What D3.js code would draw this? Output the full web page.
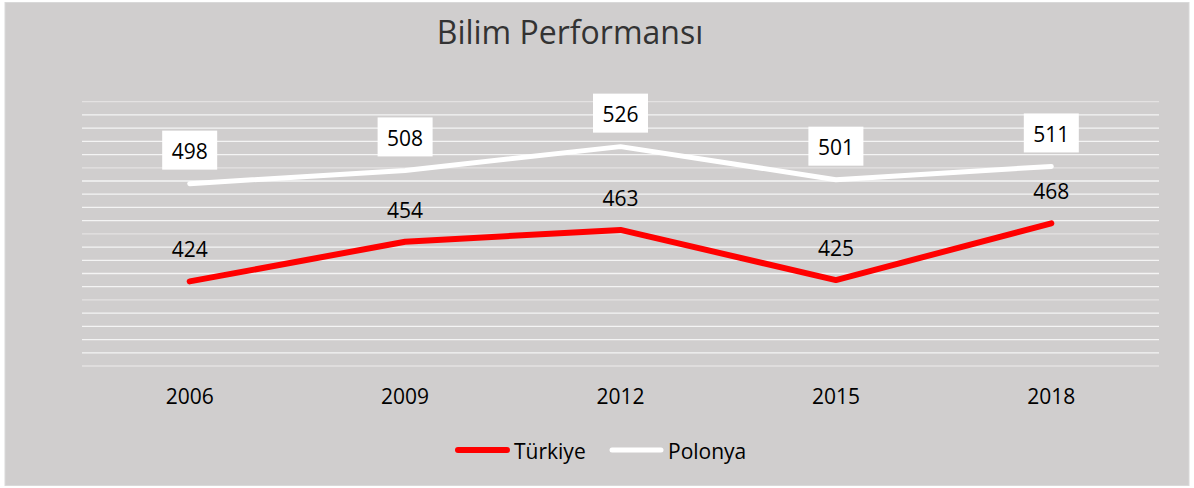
<!DOCTYPE html>
<html><head><meta charset="utf-8">
<script src="https://cdn.jsdelivr.net/npm/d3@7"></script>
<style>html,body{margin:0;padding:0;background:#fff;}text{font-family:"Open Sans",sans-serif;}</style>
</head><body><svg id="c" width="1194" height="488"></svg>
<script>
const years = ["2006","2009","2012","2015","2018"];
const turkiye = [424,454,463,425,468];
const polonya = [498,508,526,501,511];
const seriesNames = ["Türkiye","Polonya"];
const yTicks = d3.range(360,561,10);

const svg = d3.select("#c");
svg.append("rect").attr("x",5).attr("y",2.5).attr("width",1184).attr("height",483)
  .attr("fill","#d0cece").attr("stroke","#d9d9d9").attr("stroke-width",1);

svg.append("text").attr("x",570).attr("y",44).attr("text-anchor","middle")
  .attr("font-size",32).attr("fill","#333").text("Bilim Performansı");

const x = d3.scaleBand().domain(years).range([82,1159]);
const y = d3.scaleLinear().domain([360,560]).range([366,101.7]);

const grid = svg.append("g");
grid.selectAll("line").data(yTicks).join("line")
  .attr("x1",82).attr("x2",1159)
  .attr("y1",d=>y(d)).attr("y2",d=>y(d))
  .attr("stroke",d=>(d%50===10)?"#e4e2e2":"#f4f4f4").attr("stroke-width",1.3);

const xAxis = svg.append("g").attr("transform","translate(0,366)")
  .call(d3.axisBottom(x).tickSize(0).tickPadding(0));
xAxis.select(".domain").remove();
xAxis.selectAll("text").attr("y",30.3).attr("dy","0.35em").attr("font-size",21).attr("fill","#000")
  .style("font-family","'Open Sans',sans-serif");

const line = d3.line().x((d,i)=>x(years[i])+x.bandwidth()/2).y(d=>y(d));
svg.append("path").datum(polonya).attr("d",line).attr("fill","none")
  .attr("stroke","#fff").attr("stroke-width",5).attr("stroke-linecap","round").attr("stroke-linejoin","round");
svg.append("path").datum(turkiye).attr("d",line).attr("fill","none")
  .attr("stroke","#ff0000").attr("stroke-width",6).attr("stroke-linecap","round").attr("stroke-linejoin","round");

const pl = svg.append("g").selectAll("g").data(polonya).join("g")
  .attr("transform",(d,i)=>`translate(${x(years[i])+x.bandwidth()/2},${y(d)-33.5})`);
pl.append("rect").attr("x",-27.5).attr("y",-19.5).attr("width",55).attr("height",39).attr("fill","#fff");
pl.append("text").attr("text-anchor","middle").attr("y",1.5).attr("dy","0.35em").attr("font-size",21).attr("fill","#000").text(d=>d);

svg.append("g").selectAll("text").data(turkiye).join("text")
  .attr("x",(d,i)=>x(years[i])+x.bandwidth()/2).attr("y",d=>y(d)-31.5)
  .attr("text-anchor","middle").attr("dy","0.35em").attr("font-size",21).attr("fill","#000").text(d=>d);

const legend = [{name:seriesNames[0],color:"#ff0000",w:6,x:455},{name:seriesNames[1],color:"#fff",w:5,x:609}];
const lg = svg.append("g").selectAll("g").data(legend).join("g").attr("transform",d=>`translate(${d.x},450)`);
lg.append("line").attr("x1",3).attr("x2",52).attr("stroke",d=>d.color).attr("stroke-width",d=>d.w).attr("stroke-linecap","round");
lg.append("text").attr("x",59).attr("y",1.5).attr("dy","0.35em").attr("font-size",21).attr("fill","#000").text(d=>d.name);
</script></body></html>
